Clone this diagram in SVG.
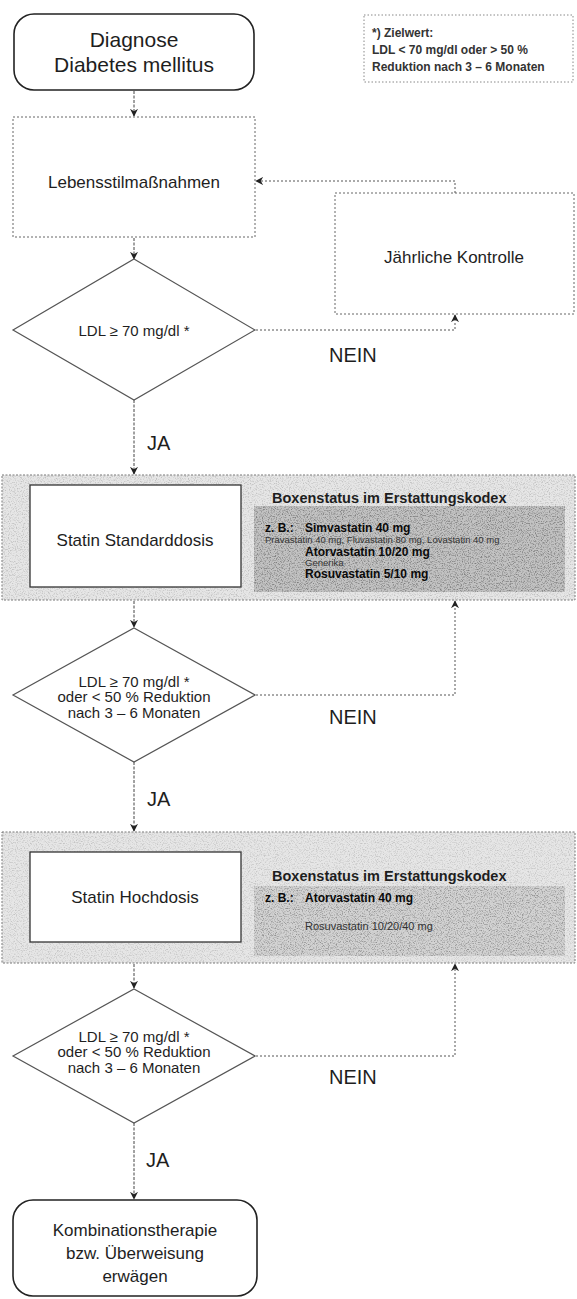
<svg xmlns="http://www.w3.org/2000/svg" width="577" height="1299" viewBox="0 0 577 1299">
  <defs>
    <marker id="arrow" viewBox="0 0 10 10" refX="9" refY="5" markerWidth="8" markerHeight="8" orient="auto-start-reverse" markerUnits="userSpaceOnUse">
      <path d="M0,0 L10,5 L0,10 L3,5 Z" fill="#222"/>
    </marker>
    <!-- speckled toner texture for the reimbursement panels -->
    <filter id="grain" x="0" y="0" width="100%" height="100%" filterUnits="objectBoundingBox">
      <feTurbulence type="fractalNoise" baseFrequency="0.85" numOctaves="2" seed="7" result="n"/>
      <feColorMatrix in="n" type="matrix" values="0 0 0 0 0  0 0 0 0 0  0 0 0 0 0  -3 0 0 0 1.6" result="dots"/>
      <feComposite in="dots" in2="SourceGraphic" operator="in"/>
    </filter>
  </defs>
  <style>
    text { font-family: "Liberation Sans", Arial, sans-serif; fill: #1e1e1e; }
    .term { fill: #fff; stroke: #222; stroke-width: 1.6; }
    .proc { fill: #fff; stroke: #666; stroke-width: 1; stroke-dasharray: 2 2; }
    .dec { fill: #fff; stroke: #555; stroke-width: 1.2; }
    .band { fill: #e6e6e6; stroke: #777; stroke-width: 1; stroke-dasharray: 2 1.5; }
    .panel { fill: #c2c2c2; }
    .panel2 { fill: #d2d2d2; }
    .speck { fill: #000; filter: url(#grain); }
    .inner { fill: #fff; stroke: #333; stroke-width: 1.3; }
    .note { fill: #fff; stroke: #888; stroke-width: 1; stroke-dasharray: 1.5 2; }
    .link { fill: none; stroke: #555; stroke-width: 1; stroke-dasharray: 2 2; }
    .flow { fill: none; stroke: #444; stroke-width: 1; stroke-dasharray: 3 1.5; }
    .big { font-size: 21px; }
    .lbl { font-size: 17px; }
    .dtx { font-size: 15px; }
    .yn { font-size: 20px; }
    .ttl { font-size: 14.5px; font-weight: bold; }
    .drug { font-size: 12px; font-weight: bold; fill: #0a0a0a; }
    .sub { font-size: 9.5px; fill: #333; }
    .ntx { font-size: 12px; font-weight: bold; fill: #333; }
  </style>

  <!-- connectors -->
  <g id="connectors">
    <line class="flow" x1="134" y1="91" x2="134" y2="116" marker-end="url(#arrow)"/>
    <line class="flow" x1="134" y1="238" x2="134" y2="259" marker-end="url(#arrow)"/>
    <line class="flow" x1="134" y1="400" x2="134" y2="474" marker-end="url(#arrow)"/>
    <line class="flow" x1="134" y1="601" x2="134" y2="627" marker-end="url(#arrow)"/>
    <line class="flow" x1="134" y1="762" x2="134" y2="831" marker-end="url(#arrow)"/>
    <line class="flow" x1="134" y1="964" x2="134" y2="988" marker-end="url(#arrow)"/>
    <line class="flow" x1="134" y1="1123" x2="134" y2="1199" marker-end="url(#arrow)"/>
    <!-- NEIN branches -->
    <polyline class="link" points="256,330 455,330 455,315" marker-end="url(#arrow)"/>
    <polyline class="link" points="455,193 455,181 256,181" marker-end="url(#arrow)"/>
    <polyline class="link" points="256,695 455,695 455,601" marker-end="url(#arrow)"/>
    <polyline class="link" points="256,1056 455,1056 455,964" marker-end="url(#arrow)"/>
  </g>

  <!-- start -->
  <g id="diagnose">
    <rect class="term" x="14" y="14" width="240" height="76" rx="20"/>
    <text class="big" x="134" y="47" text-anchor="middle">Diagnose</text>
    <text class="big" x="134" y="72" text-anchor="middle">Diabetes mellitus</text>
  </g>

  <!-- target value footnote -->
  <g id="zielwert">
    <rect class="note" x="364" y="15" width="209" height="67"/>
    <text class="ntx" x="372" y="37">*) Zielwert:</text>
    <text class="ntx" x="372" y="54">LDL &lt; 70 mg/dl oder &gt; 50 %</text>
    <text class="ntx" x="372" y="71">Reduktion nach 3 – 6 Monaten</text>
  </g>

  <g id="lebensstil">
    <rect class="proc" x="13" y="117" width="242" height="120"/>
    <text class="lbl" x="134" y="188" text-anchor="middle">Lebensstilmaßnahmen</text>
  </g>

  <g id="kontrolle">
    <rect class="proc" x="335" y="193" width="239" height="121"/>
    <text class="lbl" x="454" y="263" text-anchor="middle">Jährliche Kontrolle</text>
  </g>

  <g id="entscheidung1">
    <polygon class="dec" points="134,259 255,330 134,400 13,330"/>
    <text class="dtx" x="134" y="336" text-anchor="middle">LDL ≥ 70 mg/dl *</text>
    <text class="yn" x="329" y="362">NEIN</text>
    <text class="yn" x="147" y="450">JA</text>
  </g>

  <g id="standarddosis">
    <rect class="band" x="2" y="475" width="573" height="125"/>
    <rect class="panel" x="254" y="506" width="311" height="86"/>
    <rect class="speck" x="3" y="476" width="571" height="123" opacity="0.16"/>
    <rect class="speck" x="254" y="506" width="311" height="86" opacity="0.22"/>
    <rect class="inner" x="30" y="485" width="211" height="102"/>
    <text class="lbl" x="135" y="546" text-anchor="middle">Statin Standarddosis</text>
    <text class="ttl" x="272" y="503">Boxenstatus im Erstattungskodex</text>
    <text class="drug" x="265" y="532">z. B.:</text>
    <text class="drug" x="305" y="532">Simvastatin 40 mg</text>
    <text class="sub" x="265" y="543">Pravastatin 40 mg, Fluvastatin 80 mg, Lovastatin 40 mg</text>
    <text class="drug" x="305" y="556">Atorvastatin 10/20 mg</text>
    <text class="sub" x="305" y="566">Generika</text>
    <text class="drug" x="305" y="578">Rosuvastatin 5/10 mg</text>
  </g>

  <g id="entscheidung2">
    <polygon class="dec" points="134,628 255,695 134,762 13,695"/>
    <text class="dtx" x="134" y="687" text-anchor="middle">LDL ≥ 70 mg/dl *</text>
    <text class="dtx" x="134" y="702" text-anchor="middle">oder &lt; 50 % Reduktion</text>
    <text class="dtx" x="134" y="718" text-anchor="middle">nach 3 – 6 Monaten</text>
    <text class="yn" x="329" y="724">NEIN</text>
    <text class="yn" x="147" y="806">JA</text>
  </g>

  <g id="hochdosis">
    <rect class="band" x="2" y="832" width="573" height="131"/>
    <rect class="panel2" x="254" y="886" width="311" height="70"/>
    <rect class="speck" x="3" y="833" width="571" height="129" opacity="0.14"/>
    <rect class="speck" x="254" y="886" width="311" height="70" opacity="0.18"/>
    <rect class="inner" x="30" y="852" width="211" height="90"/>
    <text class="lbl" x="135" y="903" text-anchor="middle">Statin Hochdosis</text>
    <text class="ttl" x="272" y="881">Boxenstatus im Erstattungskodex</text>
    <text class="drug" x="265" y="902">z. B.:</text>
    <text class="drug" x="305" y="902">Atorvastatin 40 mg</text>
    <text class="sub" x="305" y="930" style="font-size:11px">Rosuvastatin 10/20/40 mg</text>
  </g>

  <g id="entscheidung3">
    <polygon class="dec" points="134,989 255,1056 134,1123 13,1056"/>
    <text class="dtx" x="134" y="1042" text-anchor="middle">LDL ≥ 70 mg/dl *</text>
    <text class="dtx" x="134" y="1057" text-anchor="middle">oder &lt; 50 % Reduktion</text>
    <text class="dtx" x="134" y="1073" text-anchor="middle">nach 3 – 6 Monaten</text>
    <text class="yn" x="329" y="1084">NEIN</text>
    <text class="yn" x="146" y="1167">JA</text>
  </g>

  <g id="kombination">
    <rect class="term" x="13" y="1200" width="244" height="96" rx="20"/>
    <text class="lbl" x="135" y="1236" text-anchor="middle">Kombinationstherapie</text>
    <text class="lbl" x="135" y="1259" text-anchor="middle">bzw. Überweisung</text>
    <text class="lbl" x="135" y="1282" text-anchor="middle">erwägen</text>
  </g>
</svg>
